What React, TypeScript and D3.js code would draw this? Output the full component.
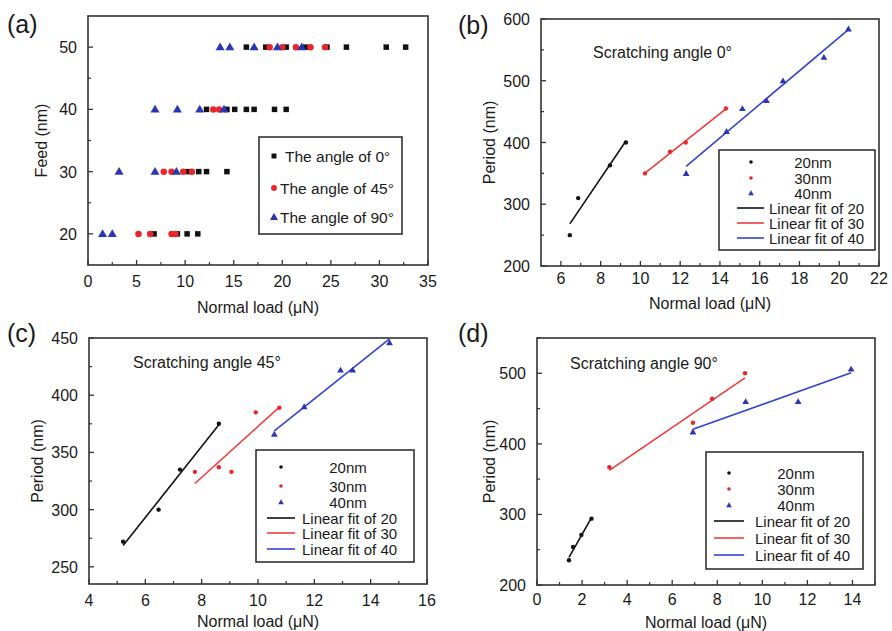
import React from "react";
import * as d3 from "d3";

// ---------- Data: panel (a) ----------
const feeds = [20, 30, 40, 50];
const angle0Loads = [
  [6.8, 9.2, 10.2, 11.3],
  [10.3, 11.4, 12.2, 14.3],
  [12.2, 14.3, 15.1, 16.3, 17.1, 19.2, 20.4],
  [16.3, 18.3, 20.4, 22.4, 24.6, 26.6, 30.7, 32.7],
];
const angle45Loads = [
  [5.2, 6.4, 8.6, 9.0],
  [7.8, 8.6, 9.8, 10.7],
  [12.9, 13.5],
  [18.7, 20.0, 21.4, 22.9, 24.4],
];
const angle90Loads = [
  [1.5, 2.5],
  [3.2, 6.9, 9.1],
  [6.9, 9.2, 11.5, 14.0],
  [13.6, 14.6, 17.1, 19.5, 22.0],
];
const legendA = ["The angle of 0°", "The angle of 45°", "The angle of 90°"];

// ---------- Data: panel (b) scratching angle 0° ----------
const b20x = [6.45, 6.87, 8.47, 9.27];
const b20y = [250, 310, 363, 400];
const b30x = [10.23, 11.49, 12.28, 14.3];
const b30y = [350, 385, 400, 455];
const b40x = [12.3, 14.33, 15.13, 16.34, 17.17, 19.23, 20.46];
const b40y = [350, 418, 455, 468, 500, 538, 584];

// ---------- Data: panel (c) scratching angle 45° ----------
const c20x = [5.21, 6.47, 7.23, 8.61];
const c20y = [272, 300, 335, 375];
const c30x = [7.76, 8.61, 9.06, 9.92, 10.76];
const c30y = [333, 337, 333, 385, 389];
const c40x = [10.58, 11.64, 12.93, 13.36, 14.67];
const c40y = [366, 390, 422, 422, 446];

// ---------- Data: panel (d) scratching angle 90° ----------
const d20x = [1.42, 1.6, 1.97, 2.42];
const d20y = [235, 254, 271, 294];
const d30x = [3.21, 6.92, 7.77, 9.23];
const d30y = [367, 430, 464, 500];
const d40x = [6.92, 9.26, 11.59, 13.94];
const d40y = [417, 460, 460, 506];

const seriesNames = ["20nm", "30nm", "40nm"];
const fitNames = ["Linear fit of 20", "Linear fit of 30", "Linear fit of 40"];

// ---------- Styles ----------
const FONT = "'Liberation Sans', Arial, sans-serif";
const TXT = "#1a1a1a";
const BLACK = "#111";
const RED = "#e8262b";
const BLUE = "#2b35b5";
const RED_LINE = "#ef3b3b";
const BLUE_LINE = "#3344cc";
const AXIS = "#333";

type Frame = { l: number; t: number; r: number; b: number };

function fit(xs: number[], ys: number[]) {
  const mx = d3.mean(xs)!;
  const my = d3.mean(ys)!;
  let sxy = 0, sxx = 0;
  xs.forEach((x, i) => { sxy += (x - mx) * (ys[i] - my); sxx += (x - mx) * (x - mx); });
  const k = sxy / sxx;
  const x0 = d3.min(xs)!, x1 = d3.max(xs)!;
  return [[x0, my + k * (x0 - mx)], [x1, my + k * (x1 - mx)]];
}

function Marker({ kind, x, y, color, s }: { kind: string; x: number; y: number; color: string; s: number }) {
  if (kind === "square") return <rect x={x - s / 2} y={y - s / 2} width={s} height={s} fill={color} />;
  if (kind === "circle") return <circle cx={x} cy={y} r={s / 2} fill={color} />;
  const sym = d3.symbol().type(d3.symbolTriangle).size(s * s * 0.55)();
  return <path d={sym!} transform={`translate(${x},${y + 0.6})`} fill={color} />;
}

function Axes({ f, x, y, xMajor, xMinor, yMajor, yMinor, xTitle, yTitle, yTitleX, xLabelY, xTitleY }: any) {
  return (
    <g fontFamily={FONT} fill={TXT}>
      <rect x={f.l} y={f.t} width={f.r - f.l} height={f.b - f.t} fill="none" stroke={AXIS} strokeWidth={1.6} />
      {xMajor.map((v: number) => (
        <g key={"xM" + v}>
          <line x1={x(v)} x2={x(v)} y1={f.b} y2={f.b - 5} stroke={AXIS} strokeWidth={1.3} />
          <text x={x(v)} y={xLabelY} fontSize={16} textAnchor="middle">{v}</text>
        </g>
      ))}
      {xMinor.map((v: number) => (
        <line key={"xm" + v} x1={x(v)} x2={x(v)} y1={f.b} y2={f.b - 3} stroke={AXIS} strokeWidth={1.2} />
      ))}
      {yMajor.map((v: number) => (
        <g key={"yM" + v}>
          <line x1={f.l} x2={f.l + 5} y1={y(v)} y2={y(v)} stroke={AXIS} strokeWidth={1.3} />
          <text x={f.l - 11} y={y(v) + 6} fontSize={16} textAnchor="end">{v}</text>
        </g>
      ))}
      {yMinor.map((v: number) => (
        <line key={"ym" + v} x1={f.l} x2={f.l + 3} y1={y(v)} y2={y(v)} stroke={AXIS} strokeWidth={1.2} />
      ))}
      <text x={(f.l + f.r) / 2} y={xTitleY} fontSize={16} textAnchor="middle">{xTitle}</text>
      <text transform={`translate(${yTitleX},${(f.t + f.b) / 2}) rotate(-90)`} fontSize={16} textAnchor="middle" dy={6}>{yTitle}</text>
    </g>
  );
}

function FitPanel({ f, xDomain, yDomain, xMajor, xMinor, yMajor, yMinor, label, labelX, labelY, note, noteX, noteY, xs, ys, leg, yTitleX, xLabelY, xTitleY }: any) {
  const x = d3.scaleLinear().domain(xDomain).range([f.l, f.r]);
  const y = d3.scaleLinear().domain(yDomain).range([f.b, f.t]);
  const colors = [BLACK, RED, BLUE];
  const lineColors = [BLACK, RED_LINE, BLUE_LINE];
  const kinds = ["circle", "circle", "tri"];
  const line = d3.line<number[]>().x((p) => x(p[0])).y((p) => y(p[1]));
  return (
    <g>
      <Axes f={f} x={x} y={y} xMajor={xMajor} xMinor={xMinor} yMajor={yMajor} yMinor={yMinor}
        xTitle="Normal load (μN)" yTitle="Period (nm)" yTitleX={yTitleX}
        xLabelY={xLabelY} xTitleY={xTitleY} />
      <text x={labelX} y={labelY} fontSize={25} fontFamily={FONT} fill={TXT}>{label}</text>
      <text x={noteX} y={noteY} fontSize={16} fontFamily={FONT} fill={TXT}>{note}</text>
      {xs.map((sx: number[], i: number) => (
        <path key={"fit" + i} d={line(fit(sx, ys[i]))!} stroke={lineColors[i]} strokeWidth={1.6} fill="none" />
      ))}
      {xs.map((sx: number[], i: number) =>
        sx.map((v, j) => (
          <Marker key={`m${i}-${j}`} kind={kinds[i]} x={x(v)} y={y(ys[i][j])} color={colors[i]} s={kinds[i] === "tri" ? 6 : 4.4} />
        ))
      )}
      <g fontFamily={FONT} fill={TXT}>
        <rect x={leg.x0} y={leg.y0} width={leg.x1 - leg.x0} height={leg.y1 - leg.y0} fill="white" stroke={AXIS} strokeWidth={1.6} />
        {seriesNames.map((n, i) => (
          <g key={n}>
            <Marker kind={kinds[i]} x={leg.mx} y={leg.rows[i]} color={colors[i]} s={kinds[i] === "tri" ? 5 : 3.6} />
            <text x={leg.tc} y={leg.rows[i] + 5.5} fontSize={15} textAnchor="middle">{n}</text>
          </g>
        ))}
        {fitNames.map((n, i) => (
          <g key={n}>
            <line x1={leg.l0} x2={leg.l1} y1={leg.rows[i + 3]} y2={leg.rows[i + 3]} stroke={lineColors[i]} strokeWidth={1.6} />
            <text x={leg.ts} y={leg.rows[i + 3] + 5.5} fontSize={15}>{n}</text>
          </g>
        ))}
      </g>
    </g>
  );
}

function PanelA() {
  const f: Frame = { l: 88, t: 16, r: 428, b: 265 };
  const x = d3.scaleLinear().domain([0, 35]).range([f.l, f.r]);
  const y = d3.scaleLinear().domain([15, 55]).range([f.b, f.t]);
  const groups = [
    { loads: angle0Loads, kind: "square", color: BLACK, s: 5.5 },
    { loads: angle45Loads, kind: "circle", color: RED, s: 6.5 },
    { loads: angle90Loads, kind: "tri", color: BLUE, s: 8 },
  ];
  const rows = [156, 188, 217];
  const textX = [285, 280, 280];
  return (
    <g>
      <Axes f={f} x={x} y={y} xMajor={d3.range(0, 36, 5)} xMinor={d3.range(2.5, 35, 5)}
        yMajor={[20, 30, 40, 50]} yMinor={[25, 35, 45]} xTitle="Normal load (μN)" yTitle="Feed (nm)"
        yTitleX={41} xLabelY={287} xTitleY={313} />
      <text x={7} y={33} fontSize={25} fontFamily={FONT} fill={TXT}>(a)</text>
      {groups.map((g, gi) =>
        g.loads.map((row, ri) =>
          row.map((v, j) => (
            <Marker key={`a${gi}-${ri}-${j}`} kind={g.kind} x={x(v)} y={y(feeds[ri])} color={g.color} s={g.s} />
          ))
        )
      )}
      <g fontFamily={FONT} fill={TXT}>
        <rect x={259} y={137} width={143} height={97} fill="white" stroke={AXIS} strokeWidth={1.6} />
        {legendA.map((n, i) => (
          <g key={n}>
            <Marker kind={groups[i].kind} x={274} y={rows[i]} color={groups[i].color} s={groups[i].s * 0.9} />
            <text x={textX[i]} y={rows[i] + 6} fontSize={15.5}>{n}</text>
          </g>
        ))}
      </g>
    </g>
  );
}

export default function App() {
  return (
    <svg width={892} height={631} style={{ display: "block", position: "absolute", left: 0, top: 0, background: "white" }}>
      <rect width={892} height={631} fill="white" />
      <PanelA />
      <FitPanel f={{ l: 541, t: 19, r: 879, b: 266 }} xDomain={[5, 22]} yDomain={[200, 600]}
        xMajor={d3.range(6, 23, 2)} xMinor={d3.range(7, 22, 2)} yMajor={[200, 300, 400, 500, 600]} yMinor={[250, 350, 450, 550]}
        label="(b)" labelX={458} labelY={34} note="Scratching angle 0°" noteX={593} noteY={58}
        xs={[b20x, b30x, b40x]} ys={[b20y, b30y, b40y]}
        leg={{ x0: 719, y0: 150, x1: 875, y1: 250, rows: [162, 178, 193, 208, 223, 238], mx: 751, tc: 813, l0: 737, l1: 764, ts: 769 }}
        yTitleX={489} xLabelY={284} xTitleY={309} />
      <FitPanel f={{ l: 89, t: 338, r: 427, b: 584 }} xDomain={[4, 16]} yDomain={[235, 450]}
        xMajor={d3.range(4, 17, 2)} xMinor={d3.range(5, 16, 2)} yMajor={[250, 300, 350, 400, 450]} yMinor={[275, 325, 375, 425]}
        label="(c)" labelX={7} labelY={342} note="Scratching angle 45°" noteX={133} noteY={368}
        xs={[c20x, c30x, c40x]} ys={[c20y, c30y, c40y]}
        leg={{ x0: 256, y0: 450, x1: 414, y1: 562, rows: [467, 486, 502, 518, 533, 549], mx: 281, tc: 348, l0: 267, l1: 295, ts: 302 }}
        yTitleX={37} xLabelY={606} xTitleY={627} />
      <FitPanel f={{ l: 537, t: 338, r: 875, b: 585 }} xDomain={[0, 15]} yDomain={[200, 550]}
        xMajor={d3.range(0, 15, 2)} xMinor={d3.range(1, 16, 2)} yMajor={[200, 300, 400, 500]} yMinor={[250, 350, 450, 550]}
        label="(d)" labelX={458} labelY={342} note="Scratching angle 90°" noteX={570} noteY={369}
        xs={[d20x, d30x, d40x]} ys={[d20y, d30y, d40y]}
        leg={{ x0: 706, y0: 452, x1: 863, y1: 569, rows: [473, 489, 505, 521, 538, 555], mx: 729, tc: 796, l0: 714, l1: 744, ts: 755 }}
        yTitleX={489} xLabelY={605} xTitleY={628} />
    </svg>
  );
}
